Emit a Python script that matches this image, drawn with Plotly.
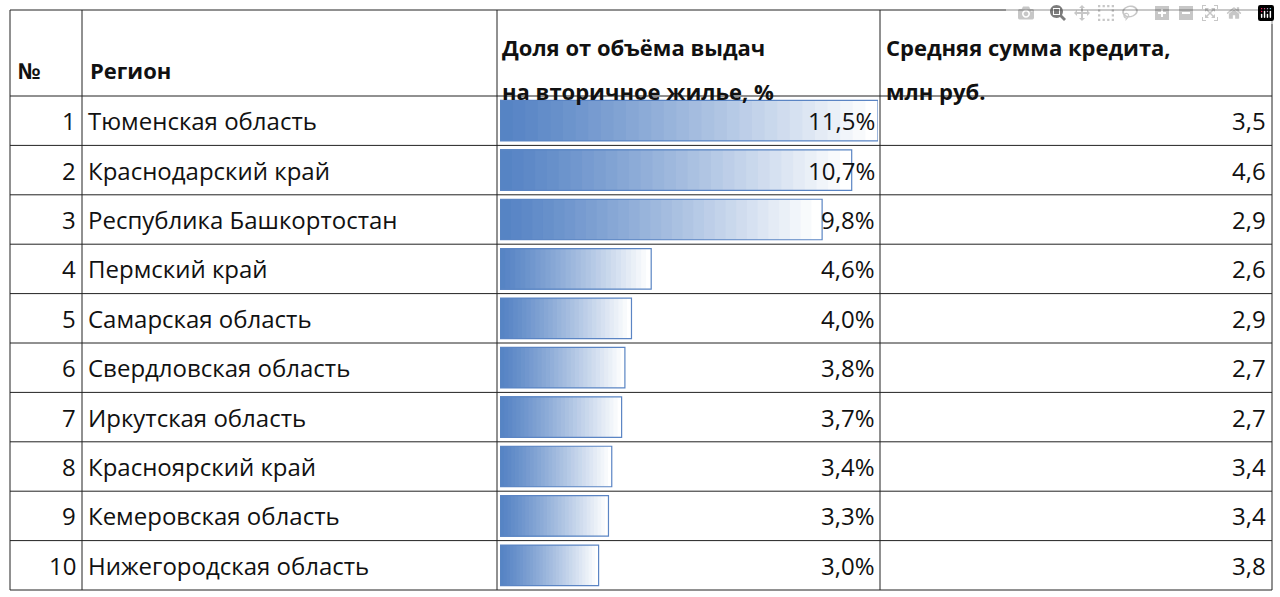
import plotly.graph_objects as go

nums = list(range(1, 11))
regions = ["Тюменская область", "Краснодарский край", "Республика Башкортостан",
           "Пермский край", "Самарская область", "Свердловская область",
           "Иркутская область", "Красноярский край", "Кемеровская область",
           "Нижегородская область"]
share = [11.5, 10.7, 9.8, 4.6, 4.0, 3.8, 3.7, 3.4, 3.3, 3.0]
avg_sum = [3.5, 4.6, 2.9, 2.6, 2.9, 2.7, 2.7, 3.4, 3.4, 3.8]

W, H = 1280, 597
def px(x): return x / W
def py(y): return 1 - y / H

top, bot = 96, 590
fig = go.Figure()

# gradient data bars: light full bar first, shorter darker bars on top
steps = 30
c0 = (84, 130, 196)
c1 = (255, 255, 255)
for k in range(steps):
    f = 1 - k / steps
    col = tuple(int(c0[i] + (c1[i] - c0[i]) * f ** 1.2) for i in range(3))
    fig.add_trace(go.Bar(
        x=[v * f for v in share], y=list(range(10)), orientation="h",
        width=0.82, marker=dict(color="rgb(%d,%d,%d)" % col, line=dict(width=0)),
        hoverinfo="skip", showlegend=False))
fig.add_trace(go.Bar(
    x=share, y=list(range(10)), orientation="h", width=0.82,
    marker=dict(color="rgba(0,0,0,0)", line=dict(color="#5b85c4", width=1.2)),
    showlegend=False, hoverinfo="skip"))

font = dict(family="Open Sans, Liberation Sans, sans-serif", size=24, color="#111")
ann = []
for i in range(10):
    ann.append(dict(x=px(78), y=i, xref="paper", yref="y", text=str(nums[i]),
                    xanchor="right", showarrow=False, font=font))
    ann.append(dict(x=px(86), y=i, xref="paper", yref="y", text=regions[i],
                    xanchor="left", showarrow=False, font=font))
    ann.append(dict(x=px(877), y=i, xref="paper", yref="y",
                    text=f"{share[i]:.1f}%".replace(".", ","),
                    xanchor="right", showarrow=False, font=font))
    ann.append(dict(x=px(1268), y=i, xref="paper", yref="y",
                    text=f"{avg_sum[i]:.1f}".replace(".", ","),
                    xanchor="right", showarrow=False, font=font))

hfont = dict(family="Open Sans, Liberation Sans, sans-serif", size=22, color="#111")
ann += [
    dict(x=px(16), y=py(53), text="<b>№</b>", xanchor="left"),
    dict(x=px(88), y=py(53), text="<b>Регион</b>", xanchor="left"),
    dict(x=px(500), y=py(30), text="<b>Доля от объёма выдач</b>", xanchor="left"),
    dict(x=px(500), y=py(74), text="<b>на вторичное жилье, %</b>", xanchor="left"),
    dict(x=px(884), y=py(30), text="<b>Средняя сумма кредита,</b>", xanchor="left"),
    dict(x=px(884), y=py(74), text="<b>млн руб.</b>", xanchor="left"),
]
for a in ann[-6:]:
    a.update(xref="paper", yref="paper", showarrow=False, font=hfont)

shapes = []
line = dict(color="#222", width=1)
shapes.append(dict(type="rect", xref="paper", yref="paper", x0=px(10), x1=px(1272),
                   y0=py(10), y1=py(bot), line=line))
for k in range(10):
    yy = top + k * (bot - top) / 10
    shapes.append(dict(type="line", xref="paper", yref="paper", x0=px(10), x1=px(1272),
                       y0=py(yy), y1=py(yy), line=line))
for xx in [82, 497, 880]:
    shapes.append(dict(type="line", xref="paper", yref="paper", x0=px(xx), x1=px(xx),
                       y0=py(10), y1=py(bot), line=line))

fig.update_layout(
    width=W, height=H, margin=dict(l=0, r=0, t=0, b=0),
    plot_bgcolor="white", paper_bgcolor="white", barmode="overlay",
    xaxis=dict(domain=[px(500), px(878)], range=[0, 11.5], visible=False),
    yaxis=dict(domain=[py(bot), py(top)], range=[9.5, -0.5], visible=False),
    annotations=ann, shapes=shapes)
fig.write_html("out.html",
               post_script="document.body.style.margin='0';document.body.style.overflow='hidden';")
